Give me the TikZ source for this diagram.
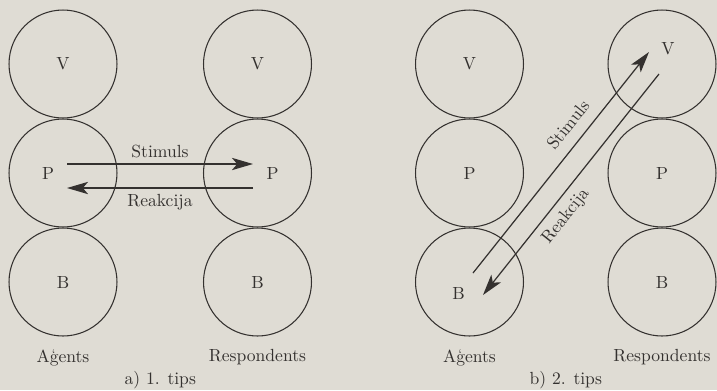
\documentclass[tikz,border=0pt]{standalone}
\usepackage{tikz}
\usetikzlibrary{arrows.meta,positioning,calc}
\usepackage{xcolor}
\definecolor{PaperGray}{RGB}{223, 220, 212}
\definecolor{InkGray}{RGB}{52, 49, 47}

\begin{document}
\begin{tikzpicture}[x=0.02cm, y=-0.02cm,
    egostate/.style={circle, draw=InkGray, line width=0.6pt, minimum size=2.16cm, inner sep=0pt},
    flow/.style={-{Stealth[length=12pt, width=7pt, inset=3pt]}, draw=InkGray, line width=0.7pt},
    every node/.append style={text=InkGray}]
    % Paper
    \fill[PaperGray] (0,0) rectangle (717,390);
    \useasboundingbox (0,0) rectangle (717,390);
    % Ego-state circles
    \foreach \col/\x in {aA/63, aR/257.5, bA/469.5, bR/662} {
        \foreach \row/\y in {V/64, P/173, B/282} {
            \node[egostate] (\col\row) at (\x,\y) {};
        }
    }
    % Letters
    \foreach \n/\l in {aAV/V, aAB/B, aRV/V, aRB/B, bAV/V, bAP/P, bRP/P, bRB/B} {
        \node (t\n) at (\n) {\l};
    }
    \node (taAP) at ($(aAP)+(-15,0)$) {P};
    \node (taRP) at ($(aRP)+(15,0)$) {P};
    \node (tbAB) at ($(bAB)+(-11,11)$) {B};
    \node (tbRV) at ($(bRV)+(6,-15)$) {V};
    % Transactions, type 1
    \draw[flow] ($(aAP)+(4,-9)$) -- node[above] (sa) {Stimuls} ($(aRP)+(-4.5,-9)$);
    \draw[flow] ($(aRP)+(-4.5,15)$) -- node[below] (ra) {Reakcija} ($(aAP)+(4,15)$);
    % Transactions, type 2
    \draw[flow] ($(bAB)+(3.5,-9)$) -- node[pos=0.62, sloped, above=3pt] (sb) {Stimuls} ($(bRV)+(-13,-12)$);
    \draw[flow] ($(bRV)+(-3,10)$) -- node[pos=0.6, sloped, below=1pt] (rb) {Reakcija} ($(bAB)+(13.5,13)$);
    % Column labels
    \foreach \col/\l in {aA/Aģents, aR/Respondents, bA/Aģents, bR/Respondents} {
        \node[below=4pt of \col B] (\col lab) {\l};
    }
    \node (capa) at ($(aAB)!0.5!(aRB)+(0,98)$) {a) 1. tips};
    \node (capb) at ($(bAB)!0.5!(bRB)+(0,98)$) {b) 2. tips};
\end{tikzpicture}
\end{document}
